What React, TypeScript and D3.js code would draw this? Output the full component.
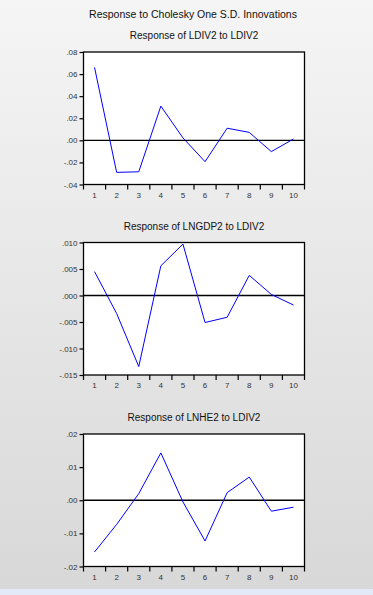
import React, { useEffect, useRef } from 'react';
import * as d3 from 'd3';

// Periods on the x axis
const periods = ['1', '2', '3', '4', '5', '6', '7', '8', '9', '10'];

// Responses
const ldiv2Response = [0.066, -0.029, -0.0285, 0.031, 0.0022, -0.0193, 0.011, 0.0072, -0.0102, 0.0012];
const lngdp2Response = [0.0045, -0.0034, -0.0134, 0.0056, 0.0097, -0.0051, -0.0041, 0.0038, 0.0002, -0.0018];
const lnhe2Response = [-0.0156, -0.0073, 0.002, 0.0143, -0.0005, -0.0123, 0.0023, 0.007, -0.0033, -0.0021];

// Tick values for each panel
const ldiv2Ticks = [-0.04, -0.02, 0, 0.02, 0.04, 0.06, 0.08];
const lngdp2Ticks = [-0.015, -0.01, -0.005, 0, 0.005, 0.01];
const lnhe2Ticks = [-0.02, -0.01, 0, 0.01, 0.02];

const mainTitle = 'Response to Cholesky One S.D. Innovations';

interface Panel {
  title: string;
  values: number[];
  ticks: number[];
  decimals: number;
  top: number;
}

const panels: Panel[] = [
  { title: 'Response of LDIV2 to LDIV2', values: ldiv2Response, ticks: ldiv2Ticks, decimals: 2, top: 52 },
  { title: 'Response of LNGDP2 to LDIV2', values: lngdp2Response, ticks: lngdp2Ticks, decimals: 3, top: 242.5 },
  { title: 'Response of LNHE2 to LDIV2', values: lnhe2Response, ticks: lnhe2Ticks, decimals: 2, top: 434 },
];

const fmt = (v: number, decimals: number) => {
  const s = Math.abs(v).toFixed(decimals).replace(/^0/, '');
  return (v < 0 ? '-' : '') + s;
};

const App: React.FC = () => {
  const ref = useRef<SVGSVGElement>(null);

  useEffect(() => {
    if (!ref.current) return;
    const W = 373;
    const H = 595;
    const svg = d3.select(ref.current);
    svg.selectAll('*').remove();

    const font = '"Liberation Sans", Arial, sans-serif';

    // background gradient
    const defs = svg.append('defs');
    const grad = defs.append('linearGradient')
      .attr('id', 'bg')
      .attr('x1', 0).attr('y1', 0).attr('x2', 0).attr('y2', 1);
    grad.append('stop').attr('offset', '0%').attr('stop-color', '#f5f5f5');
    grad.append('stop').attr('offset', '100%').attr('stop-color', '#d8d8d8');

    svg.append('rect')
      .attr('width', W).attr('height', 589)
      .attr('fill', 'url(#bg)');
    svg.append('rect')
      .attr('y', 589).attr('width', W).attr('height', H - 589)
      .attr('fill', '#e3e9f6');

    svg.append('text')
      .attr('x', 193)
      .attr('y', 18)
      .attr('text-anchor', 'middle')
      .attr('font-family', font)
      .attr('font-size', '10.5px')
      .attr('fill', '#111')
      .text(mainTitle);

    const left = 83.5;
    const right = 304.5;
    const plotH = 132.5;

    panels.forEach((p) => {
      const g = svg.append('g');
      const top = p.top;
      const bottom = top + plotH;

      const x = d3.scaleBand<string>()
        .domain(periods)
        .range([left, right]);

      const y = d3.scaleLinear()
        .domain([p.ticks[0], p.ticks[p.ticks.length - 1]])
        .range([bottom, top]);

      g.append('text')
        .attr('x', (left + right) / 2)
        .attr('y', top - 13)
        .attr('text-anchor', 'middle')
        .attr('font-family', font)
        .attr('font-size', '10px')
        .attr('fill', '#111')
        .text(p.title);

      g.append('rect')
        .attr('x', left).attr('y', top)
        .attr('width', right - left).attr('height', plotH)
        .attr('fill', '#fff');

      // zero line
      g.append('line')
        .attr('x1', left).attr('x2', right)
        .attr('y1', y(0)).attr('y2', y(0))
        .attr('stroke', '#000')
        .attr('stroke-width', 1.3);

      const line = d3.line<number>()
        .x((_, i) => (x(periods[i]) ?? 0) + x.bandwidth() / 2)
        .y((d) => y(d));

      g.append('path')
        .datum(p.values)
        .attr('fill', 'none')
        .attr('stroke', '#0000ff')
        .attr('stroke-width', 1)
        .attr('d', line);

      g.append('rect')
        .attr('x', left).attr('y', top)
        .attr('width', right - left).attr('height', plotH)
        .attr('fill', 'none')
        .attr('stroke', '#000')
        .attr('stroke-width', 1.3);

      // y axis
      const yAxis = d3.axisLeft(y)
        .tickValues(p.ticks)
        .tickSize(4)
        .tickPadding(2)
        .tickFormat((d: any) => fmt(d, p.decimals));
      const ya = g.append('g')
        .attr('transform', `translate(${left},0)`)
        .call(yAxis);
      ya.select('.domain').remove();
      ya.selectAll('line').attr('stroke', '#000').attr('stroke-width', 1.2);
      ya.selectAll('text')
        .attr('font-family', font)
        .attr('font-size', '8px')
        .attr('fill', '#333');

      // x axis: ticks at band edges, labels at centres
      const edges = d3.range(periods.length + 1).map((i) => left + i * x.step());
      g.selectAll('.xt')
        .data(edges)
        .enter()
        .append('line')
        .attr('x1', (d) => d).attr('x2', (d) => d)
        .attr('y1', bottom).attr('y2', bottom + 5)
        .attr('stroke', '#000')
        .attr('stroke-width', 1.2);

      g.selectAll('.xl')
        .data(periods)
        .enter()
        .append('text')
        .attr('x', (d) => (x(d) ?? 0) + x.bandwidth() / 2)
        .attr('y', bottom + 13)
        .attr('text-anchor', 'middle')
        .attr('font-family', font)
        .attr('font-size', '8px')
        .attr('fill', '#333')
        .text((d) => d);
    });
  }, []);

  return (
    <svg
      ref={ref}
      width={373}
      height={595}
      style={{ position: 'absolute', left: 0, top: 0 }}
    />
  );
};

export default App;
